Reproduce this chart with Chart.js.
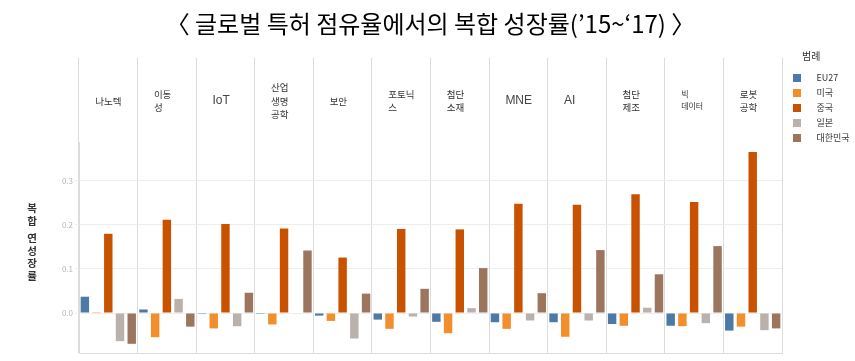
<!DOCTYPE html>
<html><head><meta charset="utf-8">
<script src="https://cdn.jsdelivr.net/npm/chart.js@4.4.0/dist/chart.umd.min.js"></script>
<style>
html,body{margin:0;padding:0;background:#fff;}
#wrap{position:relative;width:855px;height:361px;}
#ytitle{position:absolute;left:22px;top:202px;width:20px;text-align:center;font:bold 10.5px 'Noto Sans CJK KR';line-height:12.5px;color:#333;}
#ytitle .gap{display:block;height:5px;}
</style></head><body>
<div id="wrap"><canvas id="c" width="855" height="361"></canvas><div id="ytitle" aria-label="복합 연 성장률">복<br>합<span class="gap"></span>연<br>성<br>장<br>률</div></div>
<script>
const categories = [['나노텍'],['이동','성'],['IoT'],['산업','생명','공학'],['보안'],['포토닉','스'],['첨단','소재'],['MNE'],['AI'],['첨단','제조'],['빅','데이터'],['로봇','공학']];
const seriesNames = ['EU27','미국','중국','일본','대한민국'];
const eu27  = [0.037, 0.008,-0.002,-0.002,-0.006,-0.015,-0.020,-0.021,-0.021,-0.025,-0.029,-0.040];
const usa   = [0.002,-0.055,-0.035,-0.026,-0.018,-0.036,-0.046,-0.036,-0.054,-0.029,-0.030,-0.031];
const china = [0.180, 0.212, 0.202, 0.192, 0.126, 0.191, 0.190, 0.248, 0.246, 0.270, 0.252, 0.366];
const japan = [-0.064,0.032,-0.030,-0.001,-0.058,-0.008, 0.011,-0.017,-0.017, 0.012,-0.023,-0.039];
const korea = [-0.070,-0.031,0.046, 0.142, 0.044, 0.055, 0.102, 0.045, 0.143, 0.088, 0.152,-0.035];
const yTicks = [0, 0.1, 0.2, 0.3];
const titleText = '〈 글로벌 특허 점유율에서의 복합 성장률(’15~‘17) 〉';
const legendTitle = '범례';

const colors = ['#4e79a7','#f28e2b','#c85200','#bab0ac','#9c755f'];
const seriesValues = [eu27, usa, china, japan, korea];

function swatch(color){
  const c=document.createElement('canvas'); c.width=24; c.height=8;
  const g=c.getContext('2d'); g.fillStyle=color; g.fillRect(5,0,8,8); return c;
}
const swatches = colors.map(swatch);

Chart.defaults.font.family = "'Noto Sans CJK KR','Noto Sans',sans-serif";

const latinIdx = [2,7,8];
new Chart(document.getElementById('c'), {
  type:'bar',
  data:{
    labels: categories,
    datasets: seriesNames.map((n,i)=>({label:n, data:seriesValues[i], backgroundColor:colors[i], borderWidth:0,
      categoryPercentage:1.0, barPercentage:0.72, xAxisID:'x', yAxisID:'y'}))
  },
  options:{
    responsive:false, animation:false,
    layout:{padding:{top:0,left:0,right:0,bottom:7}},
    plugins:{
      tooltip:{enabled:false},
      title:{display:true, fullSize:false, text:titleText, color:'#000',
        font:{size:24, weight:'normal'}, padding:{top:9.6, bottom:19.6}},
      legend:{position:'right', align:'start', maxWidth:73,
        title:{display:true, text:'\u2003\u2003'+legendTitle, position:'start', color:'#333', font:{size:10}, padding:{top:51, bottom:4}},
        labels:{usePointStyle:true, pointStyleWidth:24, boxHeight:8, padding:6, color:'#333', font:{size:9},
          generateLabels:(chart)=>chart.data.datasets.map((ds,i)=>({text:ds.label, fillStyle:colors[i], strokeStyle:colors[i],
            lineWidth:0, pointStyle:swatches[i], hidden:false, datasetIndex:i, fontColor:'#333'}))}
      }
    },
    scales:{
      x:{position:'top', offset:true,
        grid:{offset:true, color:'#dcdcdc', tickColor:'#dcdcdc', tickLength:84, drawTicks:true, lineWidth:1},
        border:{display:false},
        ticks:{autoSkip:false, maxRotation:0, minRotation:0, crossAlign:'center', align:'start', labelOffset:-13, padding:-56.3,
          color:(ctx)=>latinIdx.includes(ctx.index)?'#444':'#333',
          font:(ctx)=>{
            if (latinIdx.includes(ctx.index)) return {family:"'Liberation Sans',Arial,sans-serif", size:12, lineHeight:1.1};
            if (ctx.index===10) return {size:8, lineHeight:1.5};
            return {size:9.5, lineHeight:1.4};
          }},
        afterFit:(s)=>{s.height=84;}
      },
      x2:{position:'bottom', display:true, grid:{display:false, drawTicks:false}, ticks:{display:false},
        border:{display:true, color:'#dcdcdc'}, afterFit:(s)=>{s.height=1;}},
      y:{min:-0.0909, max:0.3886,
        afterBuildTicks:(s)=>{s.ticks=yTicks.map(v=>({value:v}));},
        grid:{color:'#eeeeee', tickColor:'#eeeeee', tickLength:4},
        border:{display:true, color:'#dcdcdc'},
        ticks:{callback:(v)=>Number(v).toFixed(1), color:'#b5b5b5', font:{size:8}, padding:2},
        afterFit:(s)=>{s.width=79;}
      }
    }
  }
});
</script>
</body></html>
